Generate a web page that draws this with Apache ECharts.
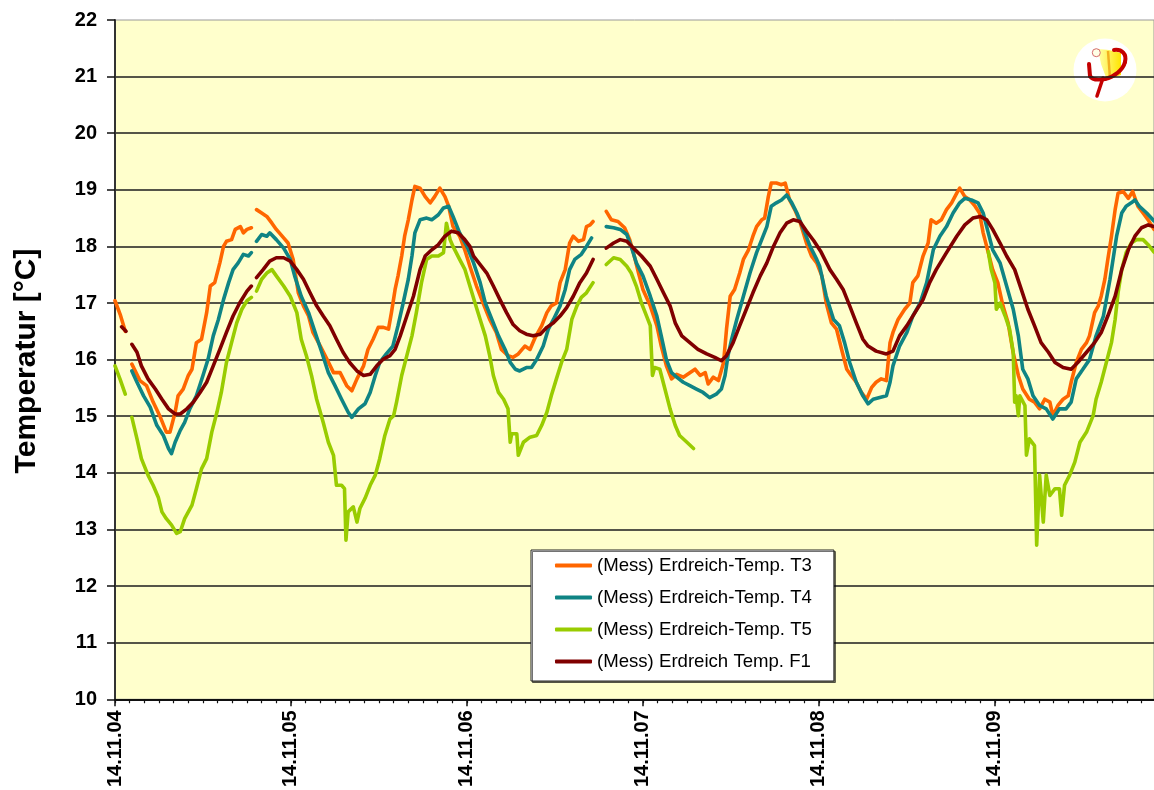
<!DOCTYPE html>
<html>
<head>
<meta charset="utf-8">
<script src="https://cdn.jsdelivr.net/npm/echarts@6/dist/echarts.min.js"></script>
<style>
  html, body { margin: 0; padding: 0; background: #fff; }
  #chart { width: 1154px; height: 790px; }
</style>
</head>
<body>
<div id="chart"></div>
<script>
// Day labels on the time axis (one every 24 h, hour 0 = first label)
const dayLabels = ['14.11.04', '14.11.05', '14.11.06', '14.11.07', '14.11.08', '14.11.09'];
const seriesNames = [
  '(Mess) Erdreich-Temp. T3',
  '(Mess) Erdreich-Temp. T4',
  '(Mess) Erdreich-Temp. T5',
  '(Mess) Erdreich Temp. F1'
];

// Measurements as [hour, °C]; a null value marks a gap in the logging
const tempT3 = [
  [0,17.04],[0.7,16.8],[1.4,16.5],[1.8,null],
  [2.3,15.92],[3.4,15.63],[4.3,15.54],[5.2,15.25],[6.1,15.01],[7.0,14.72],[7.5,14.72],[8.2,15.07],[8.6,15.36],[9.3,15.48],[10.0,15.72],[10.5,15.83],[11.1,16.3],[11.8,16.36],[12.5,16.83],[13.0,17.3],[13.6,17.36],[14.3,17.71],[14.8,18.0],[15.2,18.09],[15.9,18.12],[16.4,18.3],[17.1,18.35],[17.5,18.24],[18.0,18.3],[18.6,18.33],[18.9,null],
  [19.3,18.65],[20.0,18.59],[20.7,18.53],[21.4,18.41],[22.0,18.3],[23.0,18.15],[23.6,18.06],[24.3,17.77],[25.0,17.18],[25.7,16.95],[26.4,16.77],[27.0,16.48],[28.0,16.24],[28.9,16.01],[29.8,15.77],[30.7,15.77],[31.6,15.54],[32.3,15.45],[33.0,15.66],[33.9,15.89],[34.5,16.18],[35.2,16.36],[35.9,16.57],[36.6,16.57],[37.3,16.54],[37.7,16.83],[38.2,17.24],[38.6,17.48],[39.1,17.83],[39.5,18.18],[40.0,18.47],[40.5,18.82],[40.9,19.06],[41.6,19.03],[42.3,18.88],[43.0,18.77],[43.6,18.88],[44.3,19.03],[45.0,18.88],[45.5,18.71],[46.1,18.35],[47.0,18.18],[47.7,17.94],[48.4,17.65],[49.3,17.3],[50.2,17.0],[51.1,16.71],[52.0,16.48],[52.7,16.18],[53.6,16.07],[54.3,16.04],[55.0,16.1],[55.9,16.24],[56.6,16.18],[57.3,16.39],[58.2,16.6],[58.9,16.83],[59.5,16.95],[60.2,17.0],[60.7,17.36],[61.4,17.59],[62.0,18.06],[62.5,18.18],[63.2,18.09],[63.9,18.12],[64.3,18.35],[64.8,18.38],[65.2,18.44],[66.0,null],
  [67.0,18.62],[67.7,18.47],[68.6,18.44],[69.5,18.33],[70.2,18.12],[70.7,17.89],[71.4,17.53],[72.0,17.24],[73.0,16.95],[73.9,16.6],[74.5,16.24],[75.2,15.89],[75.9,15.66],[76.6,15.74],[77.5,15.69],[78.4,15.77],[79.1,15.83],[79.8,15.72],[80.5,15.77],[80.9,15.57],[81.6,15.69],[82.3,15.63],[83.0,15.95],[83.4,16.54],[83.9,17.12],[84.5,17.24],[85.2,17.53],[85.7,17.77],[86.4,17.94],[87.0,18.18],[87.5,18.35],[88.2,18.47],[88.6,18.5],[89.1,18.88],[89.5,19.12],[90.2,19.12],[90.9,19.09],[91.4,19.12],[92.0,18.82],[92.7,18.65],[93.4,18.44],[94.3,18.06],[95.0,17.83],[95.7,17.71],[96.4,17.48],[97.0,17.0],[97.7,16.65],[98.4,16.54],[99.1,16.18],[99.8,15.83],[100.4,15.72],[101.1,15.6],[101.8,15.42],[102.5,15.3],[103.2,15.51],[103.8,15.6],[104.5,15.66],[105.2,15.63],[105.7,16.3],[106.1,16.48],[106.8,16.71],[107.7,16.89],[108.4,17.0],[108.8,17.36],[109.5,17.48],[110.2,17.83],[110.9,18.06],[111.3,18.47],[112.0,18.41],[112.7,18.47],[113.4,18.65],[114.1,18.77],[114.8,18.94],[115.2,19.03],[115.9,18.88],[116.6,18.82],[117.3,18.71],[117.9,18.59],[118.4,18.24],[119.1,17.89],[119.7,17.59],[120.4,17.36],[121.1,16.95],[121.8,16.65],[122.5,16.12],[123.2,15.72],[123.8,15.48],[124.7,15.3],[125.4,15.25],[126.1,15.13],[126.8,15.3],[127.5,15.25],[127.9,15.01],[128.6,15.19],[129.3,15.3],[130.0,15.36],[130.4,15.6],[131.1,15.95],[131.8,16.18],[132.5,16.3],[132.9,16.42],[133.6,16.83],[134.1,16.95],[134.5,17.12],[135.0,17.42],[135.4,17.77],[135.9,18.18],[136.4,18.65],[136.8,18.94],[137.5,18.97],[138.2,18.85],[138.8,18.97],[139.5,18.71],[140.2,18.59],[140.9,18.47],[141.7,18.3]
];

const tempT4 = [
  [2.3,15.8],[3.0,15.6],[3.9,15.36],[4.8,15.16],[5.7,14.84],[6.6,14.66],[7.3,14.43],[7.7,14.34],[8.2,14.54],[8.9,14.75],[9.5,14.89],[10.2,15.13],[11.1,15.36],[12.0,15.72],[12.7,16.01],[13.4,16.42],[14.1,16.71],[14.8,17.06],[15.5,17.36],[16.1,17.59],[16.8,17.71],[17.5,17.86],[18.2,17.83],[18.6,17.89],[18.9,null],
  [19.3,18.09],[20.0,18.21],[20.7,18.18],[21.1,18.24],[22.0,18.12],[23.0,17.97],[23.9,17.77],[24.5,17.48],[25.4,17.12],[26.4,16.83],[27.3,16.48],[28.2,16.13],[29.1,15.77],[30.0,15.54],[30.9,15.3],[31.8,15.07],[32.3,14.98],[33.2,15.13],[34.1,15.22],[34.8,15.42],[35.5,15.72],[36.1,15.95],[37.0,16.1],[37.9,16.24],[38.6,16.6],[39.3,17.0],[40.0,17.42],[40.5,17.83],[40.9,18.24],[41.6,18.47],[42.5,18.5],[43.2,18.47],[44.1,18.56],[44.8,18.68],[45.5,18.71],[46.1,18.53],[47.0,18.24],[48.0,18.0],[48.9,17.71],[49.8,17.36],[50.5,17.0],[51.4,16.71],[52.3,16.42],[53.2,16.18],[53.9,15.95],[54.6,15.83],[55.2,15.8],[56.1,15.86],[56.8,15.86],[57.5,16.0],[58.4,16.24],[59.1,16.54],[59.8,16.71],[60.7,16.95],[61.4,17.24],[62.0,17.59],[62.7,17.77],[63.6,17.86],[64.3,18.0],[65.0,18.15],[66.0,null],
  [67.0,18.35],[68.0,18.33],[68.9,18.3],[69.8,18.21],[70.4,18.0],[71.1,17.71],[72.0,17.48],[73.0,17.12],[73.9,16.77],[74.5,16.42],[75.2,16.0],[75.9,15.77],[76.6,15.69],[77.5,15.6],[78.4,15.54],[79.3,15.48],[80.2,15.42],[81.1,15.33],[82.0,15.39],[82.7,15.48],[83.2,15.72],[83.6,16.07],[84.1,16.36],[84.8,16.71],[85.7,17.12],[86.6,17.53],[87.5,17.89],[88.2,18.12],[88.9,18.35],[89.5,18.71],[90.2,18.77],[90.9,18.82],[91.6,18.91],[92.3,18.77],[93.0,18.59],[93.9,18.3],[94.8,18.0],[95.7,17.77],[96.1,17.65],[97.0,17.12],[98.0,16.71],[98.8,16.6],[99.5,16.3],[100.2,15.95],[101.1,15.6],[102.0,15.36],[102.7,15.22],[103.4,15.3],[104.3,15.33],[105.2,15.36],[105.7,15.6],[106.1,15.89],[107.0,16.24],[108.0,16.48],[108.8,16.77],[109.8,17.0],[110.7,17.36],[111.6,17.94],[112.5,18.18],[113.4,18.35],[114.3,18.59],[115.2,18.77],[115.9,18.85],[116.8,18.82],[117.7,18.77],[118.4,18.59],[119.1,18.24],[119.7,17.94],[120.7,17.71],[121.6,17.3],[122.5,16.89],[123.2,16.42],[123.8,15.83],[124.5,15.66],[125.2,15.36],[126.1,15.19],[127.0,15.13],[127.9,14.95],[128.8,15.13],[129.7,15.13],[130.4,15.25],[131.1,15.66],[132.0,15.83],[132.9,16.0],[133.8,16.42],[134.8,16.77],[135.7,17.42],[136.6,18.18],[137.3,18.59],[137.9,18.71],[138.6,18.77],[139.1,18.82],[139.7,18.71],[140.7,18.59],[141.7,18.45]
];

const tempT5 = [
  [0,15.89],[0.7,15.65],[1.4,15.39],[1.8,null],
  [2.3,14.98],[3.0,14.6],[3.6,14.25],[4.5,13.96],[5.2,13.78],[5.9,13.57],[6.4,13.31],[7.0,13.19],[7.7,13.08],[8.4,12.93],[8.9,12.96],[9.5,13.19],[10.5,13.43],[11.1,13.72],[11.8,14.07],[12.5,14.25],[13.2,14.72],[13.9,15.07],[14.5,15.42],[15.2,15.95],[15.9,16.3],[16.6,16.65],[17.3,16.89],[18.0,17.04],[18.6,17.1],[18.9,null],
  [19.3,17.21],[20.0,17.42],[20.7,17.53],[21.4,17.59],[22.0,17.48],[23.0,17.3],[23.9,17.12],[24.8,16.83],[25.4,16.36],[26.1,16.07],[26.8,15.72],[27.5,15.3],[28.4,14.89],[29.1,14.54],[29.8,14.31],[30.2,13.78],[30.9,13.78],[31.3,13.72],[31.5,12.81],[31.8,13.31],[32.5,13.4],[33.0,13.13],[33.4,13.37],[34.1,13.55],[34.8,13.78],[35.5,13.96],[36.1,14.25],[36.8,14.66],[37.5,14.95],[38.0,15.01],[38.4,15.25],[39.1,15.72],[39.8,16.07],[40.5,16.42],[41.1,16.83],[41.8,17.36],[42.5,17.77],[43.2,17.83],[44.1,17.83],[44.8,17.89],[45.2,18.41],[45.7,18.12],[46.1,18.0],[47.0,17.77],[47.7,17.6],[48.4,17.3],[49.1,17.0],[49.8,16.71],[50.5,16.42],[51.1,16.07],[51.6,15.72],[52.3,15.42],[53.0,15.3],[53.6,15.13],[53.9,14.54],[54.1,14.69],[54.8,14.69],[55.0,14.31],[55.7,14.54],[56.6,14.63],[57.5,14.66],[58.2,14.84],[58.9,15.07],[59.5,15.36],[60.2,15.66],[60.9,15.95],[61.6,16.18],[62.3,16.71],[63.0,16.95],[63.6,17.1],[64.3,17.18],[65.2,17.36],[66.0,null],
  [67.0,17.68],[68.0,17.8],[68.9,17.77],[69.8,17.65],[70.4,17.53],[71.1,17.3],[71.8,17.0],[72.5,16.77],[73.0,16.6],[73.3,15.72],[73.6,15.86],[74.3,15.83],[75.0,15.48],[75.7,15.13],[76.4,14.84],[77.0,14.66],[78.0,14.54],[78.9,14.43],[79.5,null],
  [119.1,17.91],[119.5,17.59],[120.0,17.36],[120.2,16.89],[120.7,17.0],[121.4,16.77],[122.0,16.54],[122.5,16.13],[122.7,15.25],[122.9,15.36],[123.2,15.01],[123.4,15.36],[124.1,15.19],[124.3,14.31],[124.7,14.6],[125.4,14.48],[125.7,12.72],[126.1,13.96],[126.6,13.13],[127.0,13.96],[127.5,13.6],[128.2,13.72],[128.8,13.72],[129.1,13.25],[129.5,13.78],[130.2,13.96],[130.9,14.19],[131.6,14.54],[132.5,14.72],[133.4,15.01],[133.8,15.3],[134.5,15.6],[135.2,15.95],[135.9,16.3],[136.4,16.71],[136.8,17.18],[137.3,17.59],[137.9,17.89],[138.6,18.06],[139.3,18.12],[140.2,18.12],[140.9,18.03],[141.7,17.9]
];

const tempF1 = [
  [0.9,16.58],[1.5,16.5],[1.8,null],
  [2.3,16.27],[3.0,16.13],[3.6,15.89],[4.5,15.66],[5.5,15.48],[6.4,15.3],[7.3,15.13],[8.2,15.04],[8.9,15.04],[9.8,15.13],[10.7,15.25],[11.6,15.42],[12.5,15.6],[13.4,15.89],[14.3,16.18],[15.2,16.48],[16.1,16.77],[17.0,17.0],[18.0,17.21],[18.6,17.3],[18.9,null],
  [19.3,17.45],[20.2,17.59],[21.1,17.74],[22.0,17.8],[23.0,17.8],[23.9,17.74],[24.8,17.59],[25.7,17.42],[26.6,17.18],[27.5,16.95],[28.4,16.77],[29.3,16.6],[30.2,16.36],[31.1,16.13],[32.0,15.95],[33.0,15.8],[33.9,15.72],[34.8,15.74],[35.7,15.89],[36.6,16.01],[37.5,16.07],[38.2,16.18],[38.9,16.42],[39.8,16.77],[40.7,17.12],[41.6,17.59],[42.3,17.83],[43.2,17.94],[44.1,18.03],[45.0,18.18],[45.9,18.27],[46.8,18.24],[47.7,18.12],[48.4,18.0],[48.9,17.83],[49.8,17.68],[50.7,17.53],[51.6,17.3],[52.5,17.06],[53.4,16.83],[54.3,16.62],[55.2,16.51],[56.1,16.45],[57.0,16.42],[58.0,16.45],[58.9,16.57],[59.8,16.65],[60.7,16.77],[61.6,16.92],[62.5,17.12],[63.4,17.36],[64.3,17.53],[65.2,17.77],[66.0,null],
  [67.0,17.97],[68.0,18.06],[68.9,18.12],[69.8,18.09],[70.7,17.97],[71.8,17.83],[73.0,17.65],[73.9,17.42],[74.8,17.18],[75.7,16.95],[76.4,16.65],[77.3,16.42],[78.4,16.3],[79.5,16.18],[80.7,16.1],[81.8,16.04],[82.7,15.98],[83.4,16.07],[84.3,16.3],[85.2,16.6],[86.1,16.89],[87.0,17.18],[88.0,17.48],[88.9,17.71],[89.8,18.0],[90.7,18.24],[91.6,18.41],[92.5,18.47],[93.4,18.44],[94.3,18.27],[95.3,18.1],[96.3,17.9],[97.5,17.59],[98.4,17.42],[99.3,17.24],[100.2,16.95],[101.1,16.65],[102.0,16.36],[102.7,16.24],[103.8,16.15],[105.2,16.1],[106.1,16.15],[107.0,16.42],[108.0,16.6],[109.1,16.83],[110.2,17.06],[111.1,17.36],[112.0,17.59],[113.4,17.89],[114.8,18.18],[115.9,18.38],[117.0,18.5],[118.0,18.53],[118.9,18.47],[119.7,18.3],[120.7,18.06],[121.6,17.83],[122.7,17.59],[123.6,17.24],[124.5,16.89],[125.4,16.6],[126.3,16.3],[127.3,16.13],[128.2,15.95],[129.3,15.86],[130.4,15.83],[131.3,15.95],[132.5,16.13],[133.6,16.3],[134.5,16.48],[135.4,16.77],[136.4,17.12],[137.3,17.59],[138.2,17.94],[139.1,18.18],[140.0,18.33],[140.9,18.38],[141.7,18.35]
];

const seriesColors = ['#FF6600', '#0F8484', '#99CC00', '#800000'];
const seriesData = [tempT3, tempT4, tempT5, tempF1];

const FONT = '"Liberation Sans", Arial, Helvetica, sans-serif';
const HOURS_SHOWN = 141.7;

const dayTicks = dayLabels.map((_, i) => i * 24);
const twoHourTicks = [];
for (let h = 0; h <= HOURS_SHOWN; h += 2) twoHourTicks.push(h);

const chart = echarts.init(document.getElementById('chart'), null, { renderer: 'canvas' });

const RED = '#C40000';

chart.setOption({
  animation: false,
  backgroundColor: '#ffffff',
  grid: {
    left: 115, right: 0, top: 20, bottom: 89,
    show: true,
    backgroundColor: '#FFFFCC',
    borderColor: '#9a9a9a',
    borderWidth: 1
  },
  xAxis: [
    {
      type: 'value',
      min: 0,
      max: HOURS_SHOWN,
      axisLine: { show: true, onZero: false, lineStyle: { color: '#111', width: 2 } },
      axisTick: { show: true, customValues: dayTicks, length: 7, lineStyle: { color: '#111', width: 1.5 } },
      axisLabel: {
        show: true,
        customValues: dayTicks,
        rotate: 90,
        margin: 11,
        color: '#000',
        fontFamily: FONT,
        fontWeight: 'bold',
        fontSize: 20,
        formatter: v => dayLabels[Math.round(v / 24)] || ''
      },
      splitLine: { show: false }
    },
    {
      type: 'value',
      min: 0,
      max: HOURS_SHOWN,
      position: 'bottom',
      axisLine: { show: false },
      axisTick: { show: true, customValues: twoHourTicks, length: 4, lineStyle: { color: '#111', width: 1.2 } },
      axisLabel: { show: false },
      splitLine: { show: false }
    }
  ],
  yAxis: {
    type: 'value',
    min: 10,
    max: 22,
    interval: 1,
    axisLine: { show: true, lineStyle: { color: '#333', width: 2 } },
    axisTick: { show: true, length: 8, lineStyle: { color: '#111', width: 1.5 } },
    axisLabel: {
      margin: 18,
      color: '#000',
      fontFamily: FONT,
      fontWeight: 'bold',
      fontSize: 20
    },
    splitLine: {
      show: true,
      showMaxLine: false,
      lineStyle: { color: '#1c1c1c', width: 1.6 }
    }
  },
  legend: {
    orient: 'vertical',
    left: 531,
    top: 550,
    padding: [6, 22, 10, 24],
    itemWidth: 37,
    itemHeight: 4,
    itemGap: 13,
    icon: 'roundRect',
    backgroundColor: '#ffffff',
    borderColor: '#222',
    borderWidth: 1,
    shadowColor: 'rgba(0,0,0,0.55)',
    shadowOffsetX: 1.5,
    shadowOffsetY: 1.5,
    textStyle: { color: '#000', fontFamily: FONT, fontSize: 18.6, lineHeight: 18 },
    data: seriesNames
  },
  series: seriesNames.map((name, i) => ({
    name,
    type: 'line',
    xAxisIndex: 0,
    data: seriesData[i],
    showSymbol: false,
    connectNulls: false,
    color: seriesColors[i],
    lineStyle: { color: seriesColors[i], width: 3.6, cap: 'round', join: 'round' },
    z: 3 + i
  })),
  graphic: [
    {
      type: 'text',
      x: 27,
      y: 361,
      rotation: Math.PI / 2,
      style: {
        text: 'Temperatur [°C]',
        font: 'bold 30px ' + FONT,
        fill: '#000',
        textAlign: 'center',
        textVerticalAlign: 'middle'
      }
    },
    {
      // emblem in the upper right corner of the plot
      type: 'group',
      x: 1105,
      y: 70,
      z: 10,
      children: [
        { type: 'circle', shape: { cx: 0, cy: 0, r: 31.5 }, style: { fill: '#ffffff' } },
        {
          type: 'polygon',
          shape: { points: [[-7, -21], [4, -20], [16, -17], [16, 5], [2, 10], [-4, -6]] },
          style: {
            fill: new echarts.graphic.LinearGradient(0, 0, 1, 0, [
              { offset: 0, color: '#FFFFA8' },
              { offset: 1, color: '#FFE400' }
            ])
          }
        },
        { type: 'line', shape: { x1: 3, y1: -19, x2: 5, y2: 8 }, style: { stroke: '#F2B020', lineWidth: 2.5 } },
        { type: 'circle', shape: { cx: -8.7, cy: -17.3, r: 4 }, style: { fill: '#FFFFE6', stroke: '#D46A6A', lineWidth: 1 } },
        { type: 'line', shape: { x1: -16, y1: -6, x2: -15, y2: 6 }, style: { stroke: RED, lineWidth: 4, lineCap: 'round' } },
        { type: 'bezierCurve', shape: { x1: -15, y1: 6, cpx1: -13, cpy1: 10, cpx2: -6, cpy2: 10, x2: 0, y2: 9 }, style: { fill: null, stroke: RED, lineWidth: 4, lineCap: 'round' } },
        { type: 'bezierCurve', shape: { x1: 0, y1: 9, cpx1: 9, cpy1: 7, cpx2: 18, cpy2: 0, x2: 20, y2: -8 }, style: { fill: null, stroke: RED, lineWidth: 4, lineCap: 'round' } },
        { type: 'bezierCurve', shape: { x1: 20, y1: -8, cpx1: 22, cpy1: -16, cpx2: 17, cpy2: -21, x2: 9, y2: -20 }, style: { fill: null, stroke: RED, lineWidth: 4, lineCap: 'round' } },
        { type: 'line', shape: { x1: -2, y1: 8, x2: -8, y2: 26 }, style: { stroke: RED, lineWidth: 3.5, lineCap: 'round' } }
      ]
    }
  ]
});
</script>
</body>
</html>
